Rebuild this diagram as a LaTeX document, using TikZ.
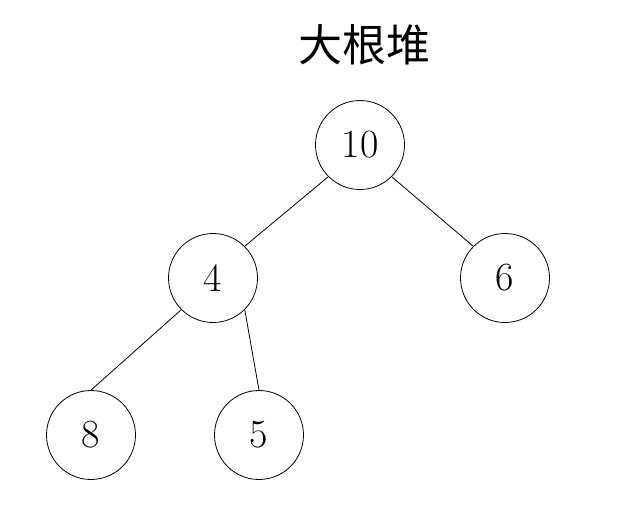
\documentclass[tikz,border=0pt]{standalone}
\usepackage{fontspec}
\newfontfamily\cjk{Noto Sans CJK SC}
\begin{document}
\begin{tikzpicture}[x=1pt,y=-1pt,
  heapnode/.style={circle,draw,line width=0.8pt,minimum size=89pt,inner sep=0pt,font=\fontsize{40}{40}\selectfont},
  edge/.style={line width=0.8pt}]
\useasboundingbox (0,0) rectangle (636,513);
\node (title) at (364,45) {\cjk\fontsize{44}{44}\selectfont 大根堆};
\node[heapnode] (n10) at (360,145) {10};
\node[heapnode] (n4) at (213,278) {4};
\node[heapnode] (n6) at (505,278) {6};
\node[heapnode] (n8) at (91,435) {8};
\node[heapnode] (n5) at (259,435) {5};
\draw[edge] (n10.south west) -- (n4.north east);
\draw[edge] (n10.south east) -- (n6.north west);
\draw[edge] (n4.south west) -- (n8.north);
\draw[edge] (n4.south east) -- (n5.north);
\end{tikzpicture}
\end{document}
